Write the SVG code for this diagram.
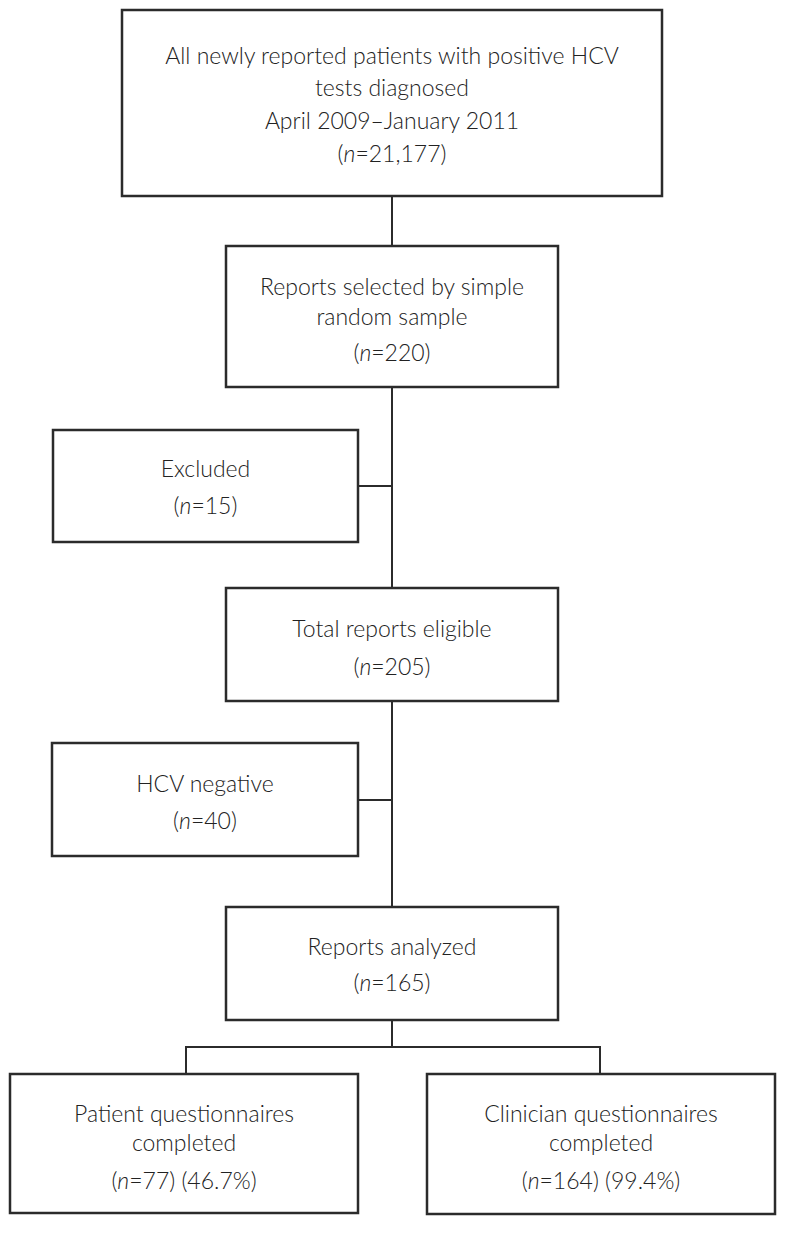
<svg xmlns="http://www.w3.org/2000/svg" width="790" height="1237" viewBox="0 0 790 1237">
<style>
.box{fill:#fff;stroke:#2b2b2b;stroke-width:2.5}
.ln{fill:none;stroke:#2b2b2b;stroke-width:2}
text{font-family:Lato,"Open Sans","Liberation Sans",sans-serif;font-weight:300;font-size:23px;fill:#222;text-anchor:middle}
.i{font-style:italic}
</style>
<g id="connectors">
<line class="ln" x1="392" y1="196" x2="392" y2="246"/>
<line class="ln" x1="392" y1="387" x2="392" y2="588"/>
<line class="ln" x1="358" y1="486" x2="392" y2="486"/>
<line class="ln" x1="392" y1="701" x2="392" y2="907"/>
<line class="ln" x1="358" y1="800" x2="392" y2="800"/>
<polyline class="ln" points="392,1020 392,1047"/>
<polyline class="ln" points="186,1074 186,1047 600,1047 600,1074"/>
</g>
<g id="n1">
<rect class="box" x="122" y="10" width="540" height="186"/>
<text x="392" y="64">All newly reported patients with positive HCV</text>
<text x="392" y="96">tests diagnosed</text>
<text x="392" y="129">April 2009–January 2011</text>
<text x="392" y="162">(<tspan class="i">n</tspan>=21,177)</text>
</g>
<g id="n2">
<rect class="box" x="226" y="246" width="332" height="141"/>
<text x="392" y="295">Reports selected by simple</text>
<text x="392" y="325">random sample</text>
<text x="392" y="361">(<tspan class="i">n</tspan>=220)</text>
</g>
<g id="n3">
<rect class="box" x="53" y="430" width="305" height="112"/>
<text x="205.5" y="477">Excluded</text>
<text x="205.5" y="514">(<tspan class="i">n</tspan>=15)</text>
</g>
<g id="n4">
<rect class="box" x="226" y="588" width="332" height="113"/>
<text x="392" y="637">Total reports eligible</text>
<text x="392" y="675">(<tspan class="i">n</tspan>=205)</text>
</g>
<g id="n5">
<rect class="box" x="52" y="743" width="306" height="113"/>
<text x="205" y="792">HCV negative</text>
<text x="205" y="829">(<tspan class="i">n</tspan>=40)</text>
</g>
<g id="n6">
<rect class="box" x="226" y="907" width="332" height="113"/>
<text x="392" y="955">Reports analyzed</text>
<text x="392" y="991">(<tspan class="i">n</tspan>=165)</text>
</g>
<g id="n7">
<rect class="box" x="10" y="1074" width="348" height="139"/>
<text x="184" y="1122">Patient questionnaires</text>
<text x="184" y="1151">completed</text>
<text x="184" y="1189">(<tspan class="i">n</tspan>=77) (46.7%)</text>
</g>
<g id="n8">
<rect class="box" x="427" y="1074" width="348" height="140"/>
<text x="601" y="1122">Clinician questionnaires</text>
<text x="601" y="1151">completed</text>
<text x="601" y="1189">(<tspan class="i">n</tspan>=164) (99.4%)</text>
</g>
</svg>
